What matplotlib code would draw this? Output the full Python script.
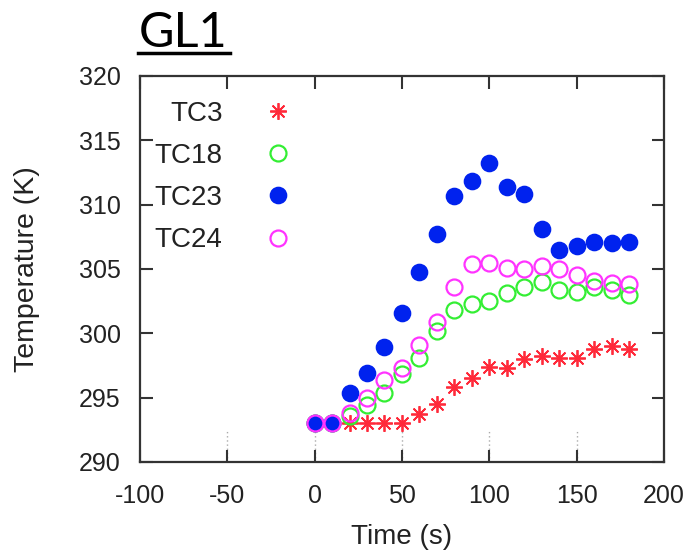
import matplotlib
matplotlib.use("Agg")
import matplotlib.pyplot as plt
from matplotlib.lines import Line2D

plt.rcParams['font.family'] = ['Liberation Sans', 'DejaVu Sans']
plt.rcParams['axes.unicode_minus'] = False

# время, с
t = [0, 10, 20, 30, 40, 50, 60, 70, 80, 90, 100, 110, 120, 130, 140, 150, 160, 170, 180]

# температуры, K
tc3 = [293.0, 293.0, 293.0, 293.0, 293.0, 293.0, 293.7, 294.5, 295.8, 296.5, 297.4, 297.3,
       298.0, 298.2, 298.1, 298.1, 298.8, 299.0, 298.8]
tc18 = [293.0, 293.0, 293.6, 294.4, 295.4, 296.8, 298.1, 300.2, 301.8, 302.3, 302.5, 303.1,
        303.6, 304.0, 303.4, 303.2, 303.6, 303.4, 303.0]
tc23 = [293.0, 293.0, 295.4, 296.9, 298.9, 301.6, 304.8, 307.7, 310.7, 311.8, 313.2, 311.4,
        310.8, 308.1, 306.5, 306.8, 307.1, 307.0, 307.1]
tc24 = [293.0, 293.0, 293.8, 295.0, 296.4, 297.3, 299.1, 300.9, 303.6, 305.4, 305.5, 305.1,
        305.0, 305.2, 305.0, 304.5, 304.1, 303.9, 303.8]

xticks = [-100, -50, 0, 50, 100, 150, 200]
yticks = [290, 295, 300, 305, 310, 315, 320]
grid_x = [-50, 0, 50, 100, 150]

fig = plt.figure(figsize=(6.94, 5.5), dpi=100)
ax = fig.add_axes([0.2017, 0.16, 0.755, 0.702])

# короткие пунктирные линии сетки у нижней границы
ax.vlines(grid_x, 290, 292.6, colors='#aaaaaa', linestyles=(0, (1, 2)), lw=1, zorder=0)

ax.plot(t, tc3, ls='none', marker=(8, 2, 0), ms=12, mew=1.3, color='#ff2a3a', label='TC3')
ax.plot(t, tc18, ls='none', marker='o', ms=11.5, mew=1.6, mfc='none', mec='#33ee33', label='TC18')
ax.plot(t, tc23, ls='none', marker='o', ms=11.5, mew=1.2, mfc='#0022ee', mec='#0022ee', label='TC23')
ax.plot(t, tc24, ls='none', marker='o', ms=11.5, mew=1.6, mfc='none', mec='#ff33ff', label='TC24')

ax.set_xlim(-100, 200)
ax.set_ylim(290, 320)
ax.set_xticks(xticks)
ax.set_yticks(yticks)
ax.tick_params(direction='in', length=9, width=1.5, colors='#333333', labelsize=18,
               top=True, right=True, labelcolor='#222222')
ax.tick_params(axis='y', pad=14)
ax.tick_params(axis='x', pad=16)
for s in ax.spines.values():
    s.set_linewidth(1.6)
    s.set_color('#333333')

ax.set_xlabel('Time (s)', fontsize=20, color='#222222')
ax.set_ylabel('Temperature (K)', fontsize=20.5, color='#222222')
ax.xaxis.set_label_coords(0.5, -0.16)
ax.yaxis.set_label_coords(-0.19, 0.5)

ax.legend(loc='upper left', bbox_to_anchor=(-0.02, 1.0), frameon=False, markerfirst=False,
          fontsize=20, labelspacing=0.58, handlelength=1.8, handletextpad=1.1,
          labelcolor='#222222')

fig.text(0.2, 0.915, 'GL1', fontsize=35, family=['Lato', 'DejaVu Sans'], color='black')
fig.add_artist(Line2D([0.199, 0.332], [0.904, 0.904], transform=fig.transFigure,
                      color='black', lw=2.5))

fig.savefig('out.png', dpi=100)
